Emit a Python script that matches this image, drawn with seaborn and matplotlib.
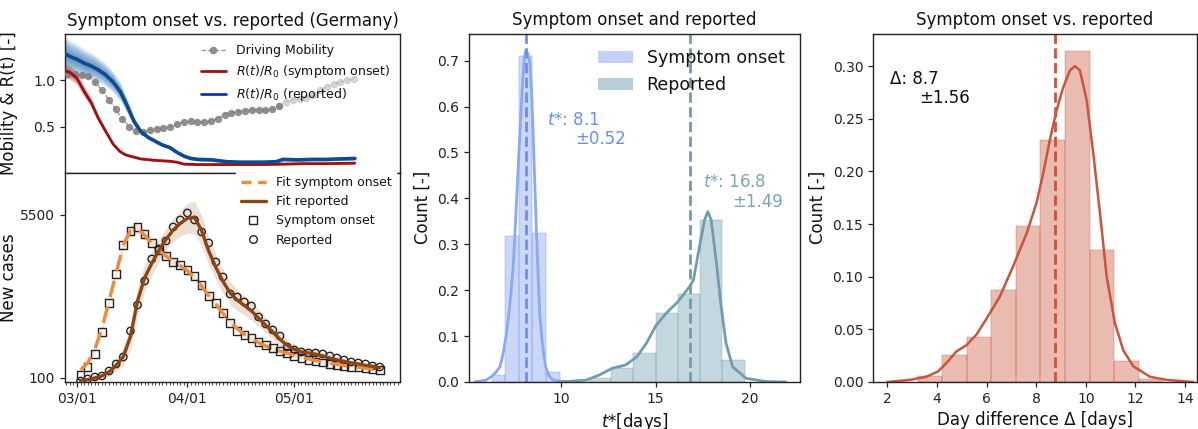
import numpy as np
import pandas as pd
import matplotlib
matplotlib.use('Agg')
import matplotlib.pyplot as plt
import matplotlib.dates as mdates
from matplotlib.lines import Line2D
from matplotlib.patches import Patch
import seaborn as sns

# ---- data ----
# top left: mobility (index of 2-day samples) and R(t)/R0 ensembles
mobility = [1.06, 1.06, 1.05, 1.04, 0.98, 0.89, 0.79, 0.69, 0.59, 0.50,
            0.46, 0.45, 0.47, 0.48, 0.49, 0.50, 0.53, 0.55, 0.56, 0.55,
            0.55, 0.56, 0.59, 0.63, 0.65, 0.66, 0.67, 0.68, 0.68, 0.68,
            0.69, 0.72, 0.77, 0.79, 0.80, 0.81, 0.84, 0.89, 0.93, 0.96,
            0.98, 1.00, 1.01]
r_onset_t = [-0.44, 0.3, 1.3, 2.35, 3.4, 4.4, 5.4, 6.6, 7.6, 8.4, 9.1, 10.7,
             12.8, 15.0, 16.0, 17.0, 19.1, 22.2, 25.4, 28.5, 31.6, 34.8, 37.9, 42.1]
r_onset = [1.10, 1.08, 1.02, 0.88, 0.76, 0.60, 0.47, 0.32, 0.24, 0.205, 0.19, 0.16,
           0.145, 0.135, 0.125, 0.105, 0.10, 0.10, 0.10, 0.10, 0.105, 0.11, 0.11, 0.115]
r_onset_spread = [0.08, 0.08, 0.07, 0.06, 0.05, 0.04, 0.03, 0.02, 0.015, 0.012, 0.012, 0.012,
                  0.012, 0.012, 0.012, 0.012, 0.012, 0.012, 0.012, 0.012, 0.012, 0.012, 0.012, 0.012]
r_rep_t = [-0.44, 0.29, 1.32, 2.35, 3.38, 4.41, 5.43, 6.61, 7.64, 8.66, 9.69, 10.72,
           11.75, 12.78, 13.8, 14.98, 16.0, 17.03, 18.06, 19.09, 21.15, 23.35, 25.4,
           28.49, 30.54, 31.57, 33.77, 35.83, 37.89, 39.94, 42.14]
r_rep = [1.28, 1.25, 1.22, 1.18, 1.15, 1.11, 1.06, 0.98, 0.88, 0.73, 0.56, 0.45,
         0.39, 0.35, 0.31, 0.28, 0.23, 0.19, 0.165, 0.155, 0.15, 0.13, 0.125,
         0.125, 0.13, 0.155, 0.15, 0.155, 0.155, 0.16, 0.165]
r_rep_spread = [0.18, 0.17, 0.16, 0.15, 0.14, 0.13, 0.12, 0.11, 0.10, 0.08, 0.05, 0.03,
                0.025, 0.02, 0.02, 0.02, 0.02, 0.02, 0.02, 0.02, 0.02, 0.02, 0.02,
                0.02, 0.02, 0.02, 0.02, 0.02, 0.02, 0.02, 0.02]

# bottom left: new cases every 2 days from 03/02
onset_cases = [200, 464, 895, 1624, 2585, 3545, 4506, 4970, 5102, 4870,
               4573, 4340, 4142, 3943, 3844, 3678, 3479, 3181, 2817, 2585,
               2253, 1922, 1657, 1525, 1425, 1293, 1193, 1094, 995, 928,
               829, 763, 696, 650, 610, 570, 535, 500, 470, 445,
               420, 395, 370]
reported_cases = [0, 67, 133, 166, 332, 564, 796, 1657, 2518, 3313,
                  4042, 4373, 4639, 5102, 5334, 5566, 5334, 4937, 4573, 3943,
                  3446, 2883, 2783, 2618, 2485, 2121, 1889, 1690, 1491, 1127,
                  1028, 961, 928, 928, 895, 829, 763, 696, 630, 597,
                  564, 498, 464]
fit_onset = [365, 600, 1050, 1750, 2650, 3600, 4500, 4980, 5060, 4820,
             4560, 4330, 4140, 3960, 3820, 3650, 3430, 3140, 2820, 2540,
             2240, 1960, 1730, 1550, 1400, 1270, 1160, 1070, 990, 920,
             850, 790, 730, 680, 630, 590, 550, 515, 485, 455,
             430, 405, 380]
fit_onset_err = [60, 80, 100, 120, 150, 180, 200, 200, 180, 160,
                 150, 140, 130, 120, 110, 100, 100, 100, 100, 100,
                 90, 90, 80, 80, 80, 70, 70, 70, 60, 60,
                 60, 60, 50, 50, 50, 50, 50, 50, 50, 40,
                 40, 40, 40]
fit_reported = [10, 50, 100, 170, 300, 520, 805, 1470, 2650, 3420,
                3900, 4330, 4690, 5000, 5220, 5390, 5420, 4980, 4300, 3760,
                3300, 2915, 2680, 2500, 2320, 2080, 1850, 1620, 1380, 1180,
                1050, 965, 930, 890, 830, 760, 700, 650, 600, 565,
                520, 480, 440]
fit_reported_err = [30, 50, 80, 100, 150, 200, 300, 400, 450, 450,
                    400, 380, 350, 380, 420, 500, 550, 500, 450, 420,
                    400, 380, 350, 320, 300, 280, 260, 240, 220, 200,
                    180, 160, 150, 140, 130, 120, 110, 100, 100, 90,
                    90, 80, 80]

# middle: t* distributions
onset_edges = [6.30, 7.02, 7.74, 8.46, 9.18, 9.90]
onset_hist = [0.015, 0.318, 0.710, 0.325, 0.0225]
rep_edges = [11.45, 12.63, 13.81, 14.99, 16.17, 17.35, 18.53, 19.71]
rep_hist = [0.008, 0.030, 0.064, 0.150, 0.192, 0.353, 0.048]
onset_kde_x = [5.4, 6.0, 6.3, 6.5, 6.74, 6.9, 7.09, 7.27, 7.44, 7.58, 7.71, 7.83, 7.94,
               8.03, 8.12, 8.22, 8.33, 8.42, 8.5, 8.59, 8.68, 8.77, 8.86, 9.0, 9.16,
               9.35, 9.56, 10.2]
onset_kde_y = [0.0, 0.004, 0.012, 0.02, 0.033, 0.06, 0.106, 0.17, 0.251, 0.36, 0.469,
               0.57, 0.650, 0.705, 0.723, 0.715, 0.694, 0.63, 0.542, 0.43, 0.324, 0.225,
               0.142, 0.08, 0.033, 0.013, 0.004, 0.0]
rep_kde_x = [9.9, 11.3, 12.0, 12.7, 13.4, 14.0, 14.5, 15.0, 15.56, 16.18, 16.8, 17.0,
             17.32, 17.59, 17.76, 17.94, 18.2, 18.47, 18.73, 19.08, 19.79, 20.85, 21.9]
rep_kde_y = [0.0, 0.004, 0.015, 0.030, 0.037, 0.055, 0.084, 0.122, 0.150, 0.175, 0.208,
             0.222, 0.295, 0.353, 0.371, 0.353, 0.266, 0.164, 0.084, 0.033, 0.008, 0.001, 0.0]
onset_mean, onset_std = 8.1, 0.52
rep_mean, rep_std = 16.8, 1.49

# right: day difference
delta_edges = [3.22, 4.21, 5.20, 6.19, 7.18, 8.17, 9.16, 10.15, 11.14, 12.13, 13.12]
delta_hist = [0.0057, 0.0256, 0.0424, 0.0873, 0.148, 0.2297, 0.314, 0.1253, 0.020, 0.003]
delta_kde_x = [2.0, 2.9, 3.57, 4.04, 4.38, 4.78, 5.19, 5.59, 5.99, 6.53, 7.07, 7.61, 8.01,
               8.28, 8.55, 8.82, 9.09, 9.36, 9.56, 9.76, 10.03, 10.3, 10.57, 10.84, 11.17,
               11.51, 11.91, 12.58, 13.26, 14.33]
delta_kde_y = [0.0, 0.002, 0.005, 0.010, 0.018, 0.029, 0.035, 0.045, 0.060, 0.081, 0.110,
               0.141, 0.170, 0.198, 0.230, 0.258, 0.280, 0.296, 0.300, 0.296, 0.268, 0.217,
               0.160, 0.100, 0.056, 0.030, 0.015, 0.005, 0.002, 0.0]
delta_mean, delta_std = 8.7, 1.56

# ---- style ----
sns.set_theme(style='ticks')
plt.rcParams['font.family'] = ['DejaVu Sans']
plt.rcParams.update({
    'axes.labelsize': 12, 'axes.titlesize': 12,
    'xtick.labelsize': 10, 'ytick.labelsize': 10,
    'axes.linewidth': 1.0, 'axes.edgecolor': '#222222',
    'xtick.major.size': 3.5, 'ytick.major.size': 3.5,
    'xtick.major.width': 0.9, 'ytick.major.width': 0.9,
    'xtick.minor.size': 2, 'xtick.minor.width': 0.6,
    'xtick.color': '#222222', 'ytick.color': '#222222',
    'text.color': '#111111', 'axes.labelcolor': '#111111',
})

c_onset = '#6b8ef0'
c_onset_kde = '#8aa9f5'
c_rep = '#6f9dae'
c_rep_txt = '#7aa4b3'
c_delta = '#c8553d'
c_orange = '#f08a3c'
c_brown = '#8b4513'

fig = plt.figure(figsize=(11.98, 4.29), dpi=100)
ax_top = fig.add_axes([0.05426, 0.59674, 0.27963, 0.32401])
ax_bot = fig.add_axes([0.05426, 0.10956, 0.27963, 0.48718])
ax_mid = fig.add_axes([0.39149, 0.10956, 0.27629, 0.81235])
ax_rgt = fig.add_axes([0.72871, 0.10956, 0.27045, 0.81235])

# ---- top left ----
mob_idx = np.arange(len(mobility))
split = 31
sns.lineplot(x=mob_idx[:split + 1], y=mobility[:split + 1], ax=ax_top, color='gray',
             lw=0.9, ls='--', marker='o', ms=4.5, mec='gray', alpha=0.85, zorder=3)
sns.lineplot(x=mob_idx[split:], y=mobility[split:], ax=ax_top, color='gray',
             lw=0.9, ls='--', marker='o', ms=4.5, mec='gray', alpha=0.3, zorder=3)


def fan(ax, t, c, s, color, a):
    c = np.array(c)
    s = np.array(s)
    for f in [1.0, 0.85, 0.7, 0.55, 0.4, 0.25]:
        ax.fill_between(t, c - f * s, c + f * s, color=color, alpha=a, lw=0)


fan(ax_top, r_onset_t, r_onset, r_onset_spread, '#c0302a', 0.16)
fan(ax_top, r_rep_t, r_rep, r_rep_spread, '#2a6db5', 0.17)
sns.lineplot(x=r_onset_t, y=r_onset, ax=ax_top, color='#a01010', lw=2.0, zorder=4)
sns.lineplot(x=r_rep_t, y=r_rep, ax=ax_top, color='#0e4c8f', lw=2.6, zorder=4)

ax_top.set_xlim(-0.44, 48.75)
ax_top.set_ylim(0.01, 1.49)
ax_top.set_xticks([])
ax_top.set_yticks([0.5, 1.0])
ax_top.set_ylabel('Mobility & R(t) [-]')
ax_top.yaxis.set_label_coords(-0.14, 0.5)
ax_top.set_title('Symptom onset vs. reported (Germany)')
top_handles = [
    Line2D([], [], color='gray', ls='--', lw=0.9, marker='o', ms=4.5, alpha=0.85),
    Line2D([], [], color='#a01010', lw=2),
    Line2D([], [], color='#1030c8', lw=2),
]
ax_top.legend(top_handles, ['Driving Mobility', r'$R(t)/R_0$ (symptom onset)',
                            r'$R(t)/R_0$ (reported)'],
              loc='upper right', frameon=False, fontsize=9, borderaxespad=0.4)

# ---- bottom left ----
dates = pd.date_range('2020-03-02', periods=len(onset_cases), freq='2D')
fo = np.array(fit_onset)
fr = np.array(fit_reported)
ax_bot.fill_between(dates, fr - np.array(fit_reported_err), fr + np.array(fit_reported_err),
                    color='#e9d5c6', alpha=0.75, lw=0)
ax_bot.fill_between(dates, fo - np.array(fit_onset_err), fo + np.array(fit_onset_err),
                    color='#f7d3b8', alpha=0.6, lw=0)
sns.scatterplot(x=dates, y=onset_cases, ax=ax_bot, marker='s', s=30,
                facecolor='none', edgecolor='#222222', linewidth=1.0, zorder=3)
sns.scatterplot(x=dates, y=reported_cases, ax=ax_bot, marker='o', s=28,
                facecolor='none', edgecolor='#222222', linewidth=1.0, zorder=3)
sns.lineplot(x=dates, y=fit_onset, ax=ax_bot, color=c_orange, lw=2.4,
             zorder=4).lines[-1].set_dashes([5, 3])
sns.lineplot(x=dates, y=fit_reported, ax=ax_bot, color=c_brown, lw=2.4, zorder=4)

start = pd.Timestamp('2020-03-01')
ax_bot.set_xlim(start - pd.Timedelta(days=3.37), start + pd.Timedelta(days=90.7))
ax_bot.set_ylim(-33, 6890)
ax_bot.set_yticks([100, 5500])
ax_bot.xaxis.set_major_locator(mdates.MonthLocator())
ax_bot.xaxis.set_major_formatter(mdates.DateFormatter('%m/%d'))
ax_bot.xaxis.set_minor_locator(mdates.DayLocator())
ax_bot.set_ylabel('New cases')
ax_bot.yaxis.set_label_coords(-0.14, 0.5)
ax_bot.set_xlabel('')
bot_handles = [
    Line2D([], [], color=c_orange, lw=2.4, ls=(0, (3, 2))),
    Line2D([], [], color=c_brown, lw=2.4),
    Line2D([], [], ls='', marker='s', ms=5.5, mfc='none', mec='#222222', mew=1),
    Line2D([], [], ls='', marker='o', ms=5.5, mfc='none', mec='#222222', mew=1),
]
leg = ax_bot.legend(bot_handles, ['Fit symptom onset', 'Fit reported', 'Symptom onset', 'Reported'],
                    loc='upper right', bbox_to_anchor=(1.0, 1.028), fontsize=9,
                    frameon=True, framealpha=1, borderaxespad=0.3, fancybox=False)
leg.get_frame().set_edgecolor('white')
leg.get_frame().set_facecolor('white')

# ---- middle ----
onset_centers = (np.array(onset_edges[:-1]) + np.array(onset_edges[1:])) / 2
rep_centers = (np.array(rep_edges[:-1]) + np.array(rep_edges[1:])) / 2
sns.histplot(x=onset_centers, weights=onset_hist, bins=onset_edges, ax=ax_mid,
             color=c_onset, alpha=0.35, edgecolor=c_onset, linewidth=0.25)
sns.histplot(x=rep_centers, weights=rep_hist, bins=rep_edges, ax=ax_mid,
             color=c_rep, alpha=0.4, edgecolor=c_rep, linewidth=0.25)
sns.lineplot(x=onset_kde_x, y=onset_kde_y, ax=ax_mid, color=c_onset_kde, lw=2)
sns.lineplot(x=rep_kde_x, y=rep_kde_y, ax=ax_mid, color=c_rep, lw=2)
ax_mid.axvline(8.12, color=c_onset, ls='--', lw=2)
ax_mid.axvline(16.84, color=c_rep, ls='--', lw=2)
ax_mid.text(9.21, 0.571, r'$t$*: ' + f'{onset_mean}', color=c_onset, fontsize=12,
            ha='left', va='center')
ax_mid.text(10.75, 0.529, f'±{onset_std}', color=c_onset, fontsize=12, ha='left', va='center')
ax_mid.text(17.5, 0.436, r'$t$*: ' + f'{rep_mean}', color=c_rep_txt, fontsize=12,
            ha='left', va='center')
ax_mid.text(19.05, 0.393, f'±{rep_std}', color=c_rep_txt, fontsize=12, ha='left', va='center')
ax_mid.set_xlim(5.1, 22.65)
ax_mid.set_ylim(0, 0.759)
ax_mid.set_xticks([10, 15, 20])
ax_mid.set_yticks(np.arange(0, 0.71, 0.1))
ax_mid.yaxis.set_major_formatter(plt.FormatStrFormatter('%.1f'))
ax_mid.set_xlabel(r'$t$*[days]')
ax_mid.set_ylabel('Count [-]')
ax_mid.set_title('Symptom onset and reported')
ax_mid.legend([Patch(color=c_onset, alpha=0.4, lw=0), Patch(color=c_rep, alpha=0.5, lw=0)],
              ['Symptom onset', 'Reported'], loc='upper right', frameon=False, fontsize=12.5)

# ---- right ----
delta_centers = (np.array(delta_edges[:-1]) + np.array(delta_edges[1:])) / 2
sns.histplot(x=delta_centers, weights=delta_hist, bins=delta_edges, ax=ax_rgt,
             color=c_delta, alpha=0.4, edgecolor=c_delta, linewidth=0.25)
sns.lineplot(x=delta_kde_x, y=delta_kde_y, ax=ax_rgt, color=c_delta, lw=1.8)
ax_rgt.axvline(8.75, color=c_delta, ls='--', lw=2)
ax_rgt.text(2.12, 0.288, f'Δ: {delta_mean}', fontsize=12, ha='left', va='center')
ax_rgt.text(3.28, 0.270, f'±{delta_std}', fontsize=12, ha='left', va='center')
ax_rgt.set_xlim(1.42, 14.48)
ax_rgt.set_ylim(0, 0.331)
ax_rgt.set_xticks(np.arange(2, 15, 2))
ax_rgt.set_yticks(np.arange(0, 0.31, 0.05))
ax_rgt.yaxis.set_major_formatter(plt.FormatStrFormatter('%.2f'))
ax_rgt.set_xlabel('Day difference Δ [days]')
ax_rgt.set_ylabel('Count [-]')
ax_rgt.set_title('Symptom onset vs. reported')

fig.savefig('out.png', dpi=100)
